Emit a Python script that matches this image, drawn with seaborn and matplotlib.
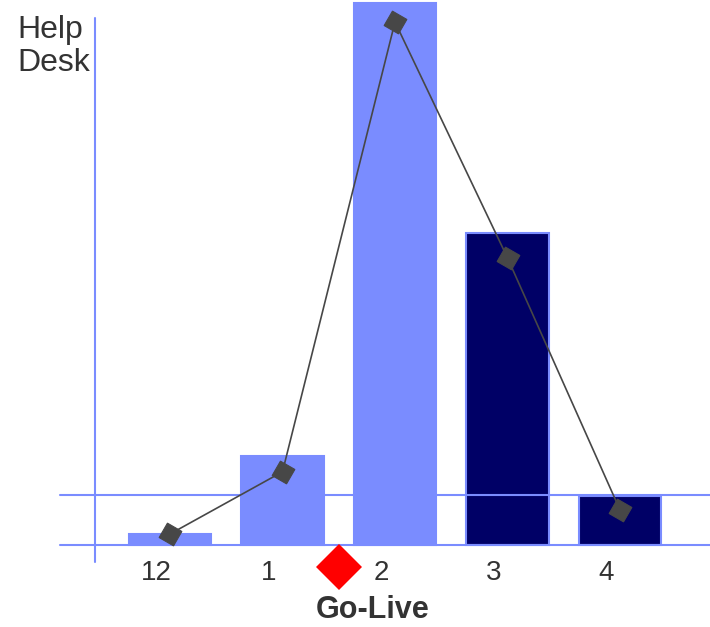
import numpy as np
import pandas as pd
import matplotlib
matplotlib.use("Agg")
import matplotlib.pyplot as plt
import seaborn as sns

# dati (unita' arbitrarie, 100 = picco della linea)
months = ["12", "1", "2", "3", "4"]
tickets = [2.1, 17.0, 103.6, 59.7, 9.4]
trend = [2.1, 14.0, 100.0, 54.9, 6.7]
phase = ["pre", "pre", "pre", "post", "post"]
target = 9.6
go_live_pos = 1.5

LIGHT = "#7a8cff"
NAVY = "#000066"
GREY = "#474747"
TEXT = "#333333"

sns.set_theme(style="white")
plt.rcParams["font.family"] = ["Liberation Sans", "DejaVu Sans"]

df = pd.DataFrame({"month": months, "tickets": tickets, "phase": phase})

fig = plt.figure(figsize=(7.10, 6.27), dpi=100)
ax = fig.add_axes([0, 0, 1, 1])

sns.barplot(data=df, x="month", y="tickets", hue="phase", order=months,
            palette={"pre": LIGHT, "post": NAVY}, dodge=False, width=0.73,
            saturation=1, edgecolor=LIGHT, linewidth=1.5, legend=False,
            ax=ax, zorder=1)

# linee di riferimento
ax.axhline(0, xmin=0.085, color=LIGHT, lw=1.5, zorder=2)
ax.axhline(target, xmin=0.085, color=LIGHT, lw=1.5, zorder=2)
ax.plot([-0.667, -0.667], [-3.25, 100.8], color=LIGHT, lw=1.5, zorder=2)

# andamento
sns.lineplot(x=np.arange(len(months)), y=trend, color=GREY, lw=1.2,
             marker=(4, 0, 15), markersize=17, markeredgecolor=GREY,
             ax=ax, zorder=4)

# go-live
ax.plot([go_live_pos], [-4.2], marker="D", color="#ff0000", markersize=23,
        markeredgewidth=0, clip_on=False, zorder=5)

for i, m in enumerate(months):
    ax.text(i - 0.12, -5.4, m, ha="center", va="center", fontsize=20,
            color=TEXT)
ax.text(1.8, -12.4, "Go-Live", ha="center", va="center", fontsize=22,
        fontweight="bold", color=TEXT)
fig.text(17 / 710, 1 - 15 / 627, "Help\nDesk", ha="left", va="top",
         fontsize=23, color=TEXT, linespacing=1.15)

ax.set_xlim(-170 / 112.5, (710 - 170) / 112.5)
ax.set_ylim(-(627 - 545) / 5.23, 545 / 5.23)
ax.set_axis_off()

fig.savefig("out.png", dpi=100)
